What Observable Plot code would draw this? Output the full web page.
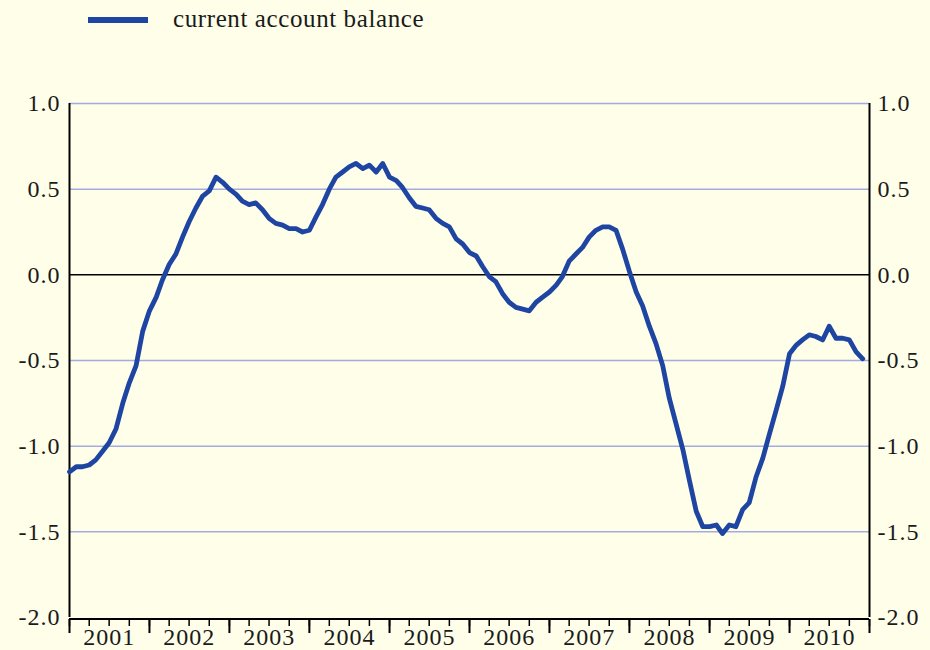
<!DOCTYPE html>
<html>
<head>
<meta charset="utf-8">
<script src="https://cdn.jsdelivr.net/npm/d3@7"></script>
<script src="https://cdn.jsdelivr.net/npm/@observablehq/plot@0.6"></script>
<style>
  html, body { margin: 0; padding: 0; background: #fefee9; }
  #legend { position: relative; height: 50px; width: 930px; font-family: "Liberation Serif", "DejaVu Serif", serif; }
  #legend .sw { position: absolute; left: 88px; top: 17px; width: 60px; height: 6px; background: #1f45a3; }
  #legend .lb { position: absolute; left: 173px; top: 4px; font-size: 25px; line-height: 30px; color: #1a1a1a; letter-spacing: 0.6px; }
</style>
</head>
<body>
<div id="legend"><div class="sw"></div><div class="lb">current account balance</div></div>
<div id="chart"></div>
<script>
const seriesName = "current account balance";
const startMonth = "2001-01-01";
// monthly values, Jan 2001 – Dec 2010
const values = [
  -1.15, -1.12, -1.12, -1.11, -1.08, -1.03, -0.98, -0.90, -0.75, -0.63, -0.53, -0.33,
  -0.21, -0.13, -0.03, 0.06, 0.12, 0.22, 0.31, 0.39, 0.46, 0.49, 0.57, 0.54,
  0.50, 0.47, 0.43, 0.41, 0.42, 0.38, 0.33, 0.30, 0.29, 0.27, 0.27, 0.25,
  0.26, 0.34, 0.41, 0.50, 0.57, 0.60, 0.63, 0.65, 0.62, 0.64, 0.60, 0.65,
  0.57, 0.55, 0.51, 0.45, 0.40, 0.39, 0.38, 0.33, 0.30, 0.28, 0.21, 0.18,
  0.13, 0.11, 0.05, -0.01, -0.04, -0.11, -0.16, -0.19, -0.20, -0.21, -0.16, -0.13,
  -0.10, -0.06, -0.01, 0.08, 0.12, 0.16, 0.22, 0.26, 0.28, 0.28, 0.26, 0.15,
  0.02, -0.10, -0.18, -0.30, -0.40, -0.53, -0.72, -0.87, -1.02, -1.20, -1.38, -1.47,
  -1.47, -1.46, -1.51, -1.46, -1.47, -1.37, -1.33, -1.18, -1.07, -0.93, -0.79, -0.65,
  -0.46, -0.41, -0.38, -0.35, -0.36, -0.38, -0.30, -0.37, -0.37, -0.38, -0.45, -0.49
];
const yTicks = [-2.0, -1.5, -1.0, -0.5, 0.0, 0.5, 1.0];
const gridValues = [-1.5, -1.0, -0.5, 0.5, 1.0];
const years = ["2001","2002","2003","2004","2005","2006","2007","2008","2009","2010"];

const start = new Date(startMonth);
const months = d3.utcMonth.range(start, d3.utcMonth.offset(start, values.length));
const data = months.map((d, i) => ({date: d, value: values[i]}));

const x0 = new Date("2001-01-01"), x1 = new Date("2011-01-01");
const quarterTicks = d3.utcMonth.every(3).range(x0, d3.utcDay.offset(x1, 1));
const yearTicks = d3.utcYear.range(x0, d3.utcDay.offset(x1, 1));
const midYears = years.map(y => new Date(`${y}-07-02`));

const fmt = d => d.toFixed(1);
const font = "Liberation Serif, DejaVu Serif, serif";

const chart = Plot.plot({
  width: 930,
  height: 600,
  marginTop: 53,
  marginBottom: 33,
  marginLeft: 69,
  marginRight: 61,
  style: {background: "transparent", fontFamily: font, fontSize: "24px", color: "#1a1a1a", letterSpacing: "1px"},
  x: {type: "utc", domain: [x0, x1]},
  y: {domain: [-2, 1]},
  marks: [
    Plot.ruleY(gridValues, {stroke: "#a3abe0", strokeWidth: 1.5}),
    Plot.ruleY([0], {stroke: "#000", strokeWidth: 1.5}),
    Plot.ruleY([-2], {stroke: "#000", strokeWidth: 2, dy: 1.5}),
    Plot.ruleX([x0, x1], {stroke: "#000", strokeWidth: 2, y1: -2, y2: 1}),
    Plot.line(data, {x: "date", y: "value", stroke: "#1f45a3", strokeWidth: 4.8, strokeLinejoin: "round"}),
    Plot.axisY(yTicks, {anchor: "left", tickSize: 0, tickPadding: 9, tickFormat: fmt, fontSize: 24, fill: "#1a1a1a", label: null}),
    Plot.axisY(yTicks, {anchor: "right", tickSize: 0, tickPadding: 8, tickFormat: fmt, fontSize: 24, fill: "#1a1a1a", label: null}),
    Plot.axisX(quarterTicks, {anchor: "bottom", tickSize: 7, tickFormat: () => "", stroke: "#000", strokeWidth: 1.5, label: null, dy: 2}),
    Plot.axisX(yearTicks, {anchor: "bottom", tickSize: 14, tickFormat: () => "", stroke: "#000", strokeWidth: 2, label: null, dy: 2}),
    Plot.axisX(midYears, {anchor: "bottom", tickSize: 0, tickPadding: 10, tickFormat: d3.utcFormat("%Y"), fontSize: 24, fill: "#1a1a1a", label: null})
  ]
});
document.getElementById("chart").appendChild(chart);
</script>
</body>
</html>
